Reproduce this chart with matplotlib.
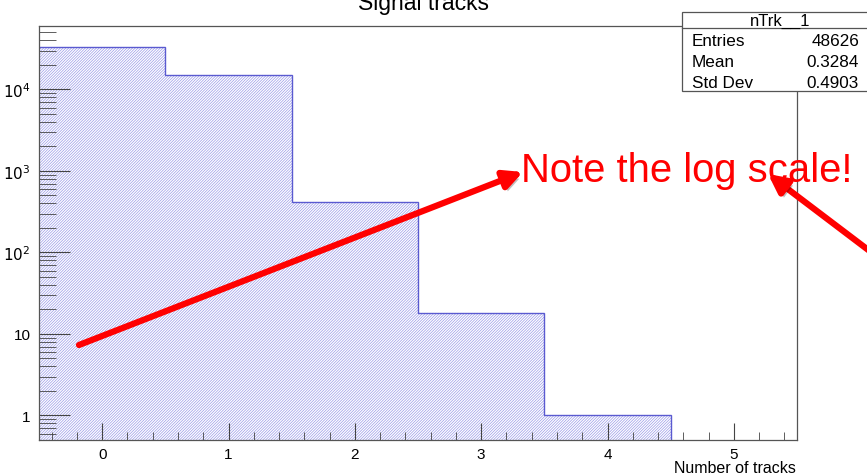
import matplotlib
matplotlib.use("Agg")
import matplotlib.pyplot as plt
import matplotlib.ticker as ticker
import matplotlib.patheffects as pe
import numpy as np

# histogram contents (consistent with stats box)
bin_centers = [0, 1, 2, 3, 4, 5]
counts = [33116, 15071, 420, 18, 1, 0]
title = "Signal tracks"
hist_name = "nTrk__1"
stat_names = ["Entries", "Mean", "Std Dev"]
stat_values = ["48626", "0.3284", "0.4903"]
note = "Note the log scale!"

plt.rcParams['font.family'] = ['Liberation Sans', 'DejaVu Sans']
plt.rcParams['hatch.linewidth'] = 0.5

fig = plt.figure(figsize=(8.67, 4.77), dpi=100)
W, H = 867, 477
L, R, T, B = 39, 797, 27, 441
ax = fig.add_axes([L / W, 1 - B / H, (R - L) / W, (B - T) / H])

edges = np.array(bin_centers + [bin_centers[-1] + 1]) - 0.5
ax.stairs(counts, edges, baseline=0.5, fill=True, facecolor='white',
          edgecolor='#9a9ae8', linewidth=0, hatch='/' * 12)
ax.stairs(counts, edges, baseline=None, color='#5a5ad0', linewidth=1.0)

ax.set_yscale('log')
ax.set_xlim(-0.5, 5.5)
ax.set_ylim(0.5, 6.0e4)

ax.yaxis.set_major_locator(ticker.LogLocator(base=10, numticks=10))
ax.yaxis.set_minor_locator(ticker.LogLocator(base=10, subs=np.arange(2, 10), numticks=20))
ax.yaxis.set_minor_formatter(ticker.NullFormatter())


def yfmt(v, pos):
    if v == 1:
        return "1"
    if v == 10:
        return "10"
    return r"$10^{%d}$" % int(round(np.log10(v)))


ax.yaxis.set_major_formatter(ticker.FuncFormatter(yfmt))
ax.xaxis.set_major_locator(ticker.MultipleLocator(1))
ax.xaxis.set_minor_locator(ticker.MultipleLocator(0.2))

ax.tick_params(axis='both', which='both', direction='in', colors='#444444',
               labelcolor='black', labelsize=11)
ax.tick_params(axis='x', which='major', length=12, pad=5)
ax.tick_params(axis='x', which='minor', length=6)
ax.tick_params(axis='y', which='major', length=22, pad=6)
ax.tick_params(axis='y', which='minor', length=12)
for s in ax.spines.values():
    s.set_color('#555555')
    s.set_linewidth(0.9)

fig.text(796 / W, 1 - 469 / H, "Number of tracks", ha='right', va='center', fontsize=11.5)

fig.text(424 / W, 1 - 10 / H, title, ha='center', va='baseline', fontsize=16.5)

# stats box
bx0, bx1, by0, by1, bsep = 682, 872, 13, 92, 29
box = plt.Rectangle((bx0 / W, 1 - by1 / H), (bx1 - bx0) / W, (by1 - by0) / H,
                    transform=fig.transFigure, facecolor='white',
                    edgecolor='#555555', linewidth=0.9, zorder=5)
fig.patches.append(box)
fig.add_artist(plt.Line2D([bx0 / W, bx1 / W], [1 - bsep / H, 1 - bsep / H],
                          transform=fig.transFigure, color='#555555', linewidth=0.9, zorder=6))
fig.text(780 / W, 1 - 21 / H, hist_name, ha='center', va='center', fontsize=12, zorder=7)
for i, (n, v) in enumerate(zip(stat_names, stat_values)):
    yy = 1 - (42 + i * 20.5) / H
    fig.text(692 / W, yy, n, ha='left', va='center', fontsize=12.3, zorder=7)
    fig.text(859 / W, yy, v, ha='right', va='center', fontsize=12.3, zorder=7)

# annotation
shadow = [pe.SimplePatchShadow(offset=(2, -3), shadow_rgbFace='black', alpha=0.25), pe.Normal()]
fig.text(521 / W, 1 - 171 / H, note, ha='left', va='center', fontsize=28.8,
         color='#ff0000', zorder=8)
a1 = ax.annotate("", xy=(523 / W, 1 - 173 / H), xytext=(79 / W, 1 - 346 / H),
                 xycoords='figure fraction', textcoords='figure fraction',
                 arrowprops=dict(arrowstyle='-|>,head_length=1.1,head_width=0.55',
                                 color='#ff0000', linewidth=4.5, shrinkA=0, shrinkB=0),
                 annotation_clip=False, zorder=8)
a1.arrow_patch.set_path_effects(shadow)
a2 = ax.annotate("", xy=(768 / W, 1 - 175 / H), xytext=(900 / W, 1 - 275 / H),
                 xycoords='figure fraction', textcoords='figure fraction',
                 arrowprops=dict(arrowstyle='-|>,head_length=1.1,head_width=0.55',
                                 color='#ff0000', linewidth=4.5, shrinkA=0, shrinkB=0),
                 annotation_clip=False, zorder=8)
a2.arrow_patch.set_path_effects(shadow)

fig.savefig("out.png", dpi=100)
